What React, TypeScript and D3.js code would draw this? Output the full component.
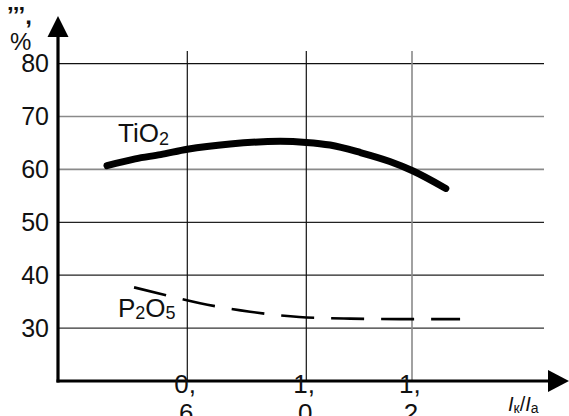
import React, { useEffect, useRef } from 'react';
import * as d3 from 'd3';

// x ticks (the drawing's axis is not evenly spaced, so the scale is piecewise)
const xTicks = [0.6, 1.0, 1.2];
const xTickLine1 = ['0,', '1,', '1,'];
const xTickLine2 = ['6', '0', '2'];

const yTicks = [80, 70, 60, 50, 40, 30];
const yGridColors = ['#111', '#8a8a8a', '#8a8a8a', '#222', '#222', '#333'];
const xGridColors = ['#111', '#111', '#8a8a8a'];

// TiO2 curve
const tioX = [0.33, 0.425, 0.51, 0.6, 0.744, 0.912, 1.0, 1.045, 1.102, 1.158, 1.2, 1.264];
const tioY = [60.7, 62.0, 62.8, 63.8, 64.8, 65.3, 65.1, 64.6, 63.2, 61.5, 59.8, 56.4];

// P2O5 curve
const pX = [0.421, 0.529, 0.643, 0.811, 0.976, 1.083, 1.177, 1.291];
const pY = [37.7, 36.2, 34.7, 33.1, 32.1, 31.8, 31.7, 31.7];

export default function App() {
  const svgRef = useRef<SVGSVGElement>(null);
  const width = 569;
  const height = 416;

  useEffect(() => {
    if (!svgRef.current) return;
    const svg = d3.select(svgRef.current);
    svg.selectAll('*').remove();

    const font = "'Liberation Sans', Arial, sans-serif";
    const x0 = 58;
    const yBase = 381;

    const x = d3.scaleLinear().domain(xTicks).range([187.3, 306.3, 412]);
    const y = d3.scaleLinear().domain([20, 80]).range([yBase, 63.6]);

    svg.append('rect').attr('width', width).attr('height', height).attr('fill', '#fff');

    // horizontal grid
    svg.selectAll('.hgrid')
      .data(yTicks)
      .enter().append('line')
      .attr('x1', x0).attr('x2', 544)
      .attr('y1', d => y(d)).attr('y2', d => y(d))
      .attr('stroke', (d, i) => yGridColors[i])
      .attr('stroke-width', (d, i) => (yGridColors[i] === '#8a8a8a' ? 1.6 : 1.2));

    // vertical grid
    svg.selectAll('.vgrid')
      .data(xTicks)
      .enter().append('line')
      .attr('x1', d => x(d)).attr('x2', d => x(d))
      .attr('y1', 51).attr('y2', yBase)
      .attr('stroke', (d, i) => xGridColors[i])
      .attr('stroke-width', (d, i) => (xGridColors[i] === '#8a8a8a' ? 1.6 : 1.2));

    // axes with arrows
    svg.append('line')
      .attr('x1', x0).attr('x2', x0).attr('y1', yBase + 1.5).attr('y2', 36)
      .attr('stroke', '#000').attr('stroke-width', 3.2);
    svg.append('path')
      .attr('d', `M${x0 - 10.5},37 L${x0 + 10.5},37 L${x0},16 Z`)
      .attr('fill', '#000');
    svg.append('line')
      .attr('x1', x0 - 1.5).attr('x2', 550).attr('y1', yBase).attr('y2', yBase)
      .attr('stroke', '#000').attr('stroke-width', 3.2);
    svg.append('path')
      .attr('d', `M548,${yBase - 11} L548,${yBase + 11} L569,${yBase} Z`)
      .attr('fill', '#000');

    // y tick labels
    svg.selectAll('.ylab')
      .data(yTicks)
      .enter().append('text')
      .attr('x', 49)
      .attr('y', d => y(d) + 8.5)
      .attr('text-anchor', 'end')
      .attr('font-family', font)
      .attr('font-size', '25px')
      .attr('fill', '#111')
      .text(d => d);

    svg.append('text')
      .attr('x', 10).attr('y', 50)
      .attr('font-family', font).attr('font-size', '24px').attr('fill', '#111')
      .text('%');
    svg.append('text')
      .attr('x', 7).attr('y', 24)
      .attr('font-family', font).attr('font-size', '24px').attr('font-weight', 'bold').attr('fill', '#111')
      .text('’’’,');

    // x tick labels (two lines each)
    svg.selectAll('.xlab1')
      .data(xTicks)
      .enter().append('text')
      .attr('x', d => x(d) - 13)
      .attr('y', 393)
      .attr('font-family', font)
      .attr('font-size', '26px')
      .attr('fill', '#111')
      .text((d, i) => xTickLine1[i]);
    svg.selectAll('.xlab2')
      .data(xTicks)
      .enter().append('text')
      .attr('x', d => x(d) - 1)
      .attr('y', 422)
      .attr('text-anchor', 'middle')
      .attr('font-family', font)
      .attr('font-size', '26px')
      .attr('fill', '#111')
      .text((d, i) => xTickLine2[i]);

    // x axis title Iк/Iа
    const xt = svg.append('text')
      .attr('x', 508).attr('y', 410.5)
      .attr('font-family', font).attr('font-size', '20px').attr('fill', '#111');
    xt.append('tspan').attr('font-style', 'italic').text('I');
    xt.append('tspan').attr('font-size', '14px').attr('dy', 2).text('к');
    xt.append('tspan').attr('dy', -2).text('/');
    xt.append('tspan').attr('font-style', 'italic').text('I');
    xt.append('tspan').attr('font-size', '14px').attr('dy', 2).text('а');

    // curves
    const line = d3.line<[number, number]>()
      .x(d => x(d[0]))
      .y(d => y(d[1]))
      .curve(d3.curveMonotoneX);

    const tio: [number, number][] = tioX.map((v, i) => [v, tioY[i]]);
    svg.append('path')
      .datum(tio)
      .attr('fill', 'none')
      .attr('stroke', '#000')
      .attr('stroke-width', 7)
      .attr('stroke-linecap', 'round')
      .attr('d', line);

    const p: [number, number][] = pX.map((v, i) => [v, pY[i]]);
    svg.append('path')
      .datum(p)
      .attr('fill', 'none')
      .attr('stroke', '#000')
      .attr('stroke-width', 2.6)
      .attr('stroke-dasharray', '33,17')
      .attr('d', line);

    // series labels
    const t1 = svg.append('text')
      .attr('x', 118).attr('y', 142)
      .attr('font-family', font).attr('font-size', '26px').attr('fill', '#111');
    t1.append('tspan').text('TiO');
    t1.append('tspan').attr('font-size', '18px').attr('dy', 3).text('2');

    const t2 = svg.append('text')
      .attr('x', 118).attr('y', 316.7)
      .attr('font-family', font).attr('font-size', '26px').attr('fill', '#111');
    t2.append('tspan').text('P');
    t2.append('tspan').attr('font-size', '18px').attr('dy', 2).text('2');
    t2.append('tspan').attr('dy', -2).text('O');
    t2.append('tspan').attr('font-size', '18px').attr('dy', 2).text('5');
  }, []);

  return (
    <svg
      ref={svgRef}
      width={width}
      height={height}
      viewBox={`0 0 ${width} ${height}`}
      style={{ position: 'absolute', left: 0, top: 0, display: 'block' }}
    />
  );
}
